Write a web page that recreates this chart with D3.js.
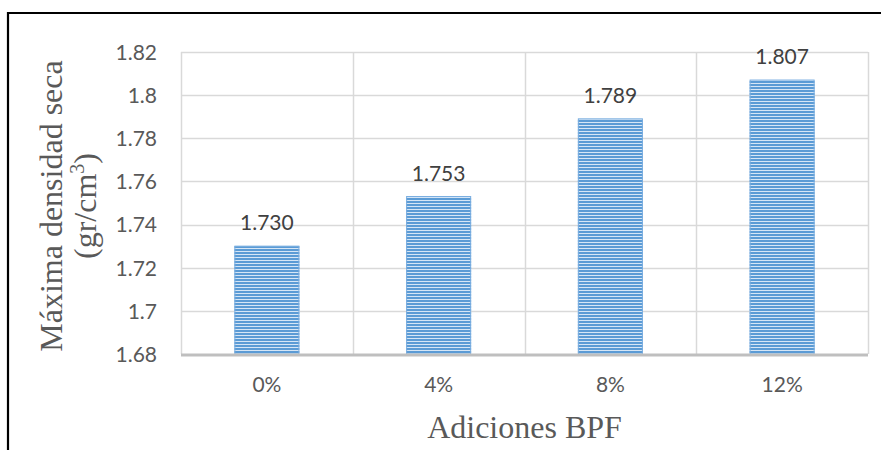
<!DOCTYPE html>
<html><head><meta charset="utf-8">
<script src="https://cdn.jsdelivr.net/npm/d3@7"></script>
<style>body{margin:0;background:#fff}svg{display:block}</style>
</head><body>
<script>
const categories = ["0%", "4%", "8%", "12%"];
const values = [1.730, 1.753, 1.789, 1.807];
const valueLabels = ["1.730", "1.753", "1.789", "1.807"];
const yTicks = [1.68, 1.70, 1.72, 1.74, 1.76, 1.78, 1.80, 1.82];
const yTitle1 = "Máxima densidad seca";
const xTitle = "Adiciones BPF";

const W = 881, H = 450;
const m = {left: 181, right: 868, top: 52, bottom: 354};
const svg = d3.select("body").append("svg").attr("width", W).attr("height", H);

const defs = svg.append("defs");
const pat = defs.append("pattern").attr("id", "stripes").attr("patternUnits", "userSpaceOnUse")
  .attr("width", 8).attr("height", 3);
pat.append("rect").attr("width", 8).attr("height", 3).attr("fill", "#d6e6f6");
pat.append("rect").attr("width", 8).attr("height", 2).attr("fill", "#5b9bd5");

// frame
svg.append("path").attr("d", `M8,${H} L8,13 L${W},13`).attr("fill", "none")
  .attr("stroke", "#000").attr("stroke-width", 2.2);

const x = d3.scaleBand().domain(categories).range([m.left, m.right]).paddingInner(0).paddingOuter(0);
const y = d3.scaleLinear().domain([1.68, 1.82]).range([m.bottom, m.top]);

// gridlines horizontal
svg.append("g").selectAll("line").data(yTicks.slice(1)).join("line")
  .attr("x1", m.left).attr("x2", m.right)
  .attr("y1", d => Math.round(y(d)) + 0.5).attr("y2", d => Math.round(y(d)) + 0.5)
  .attr("stroke", "#d9d9d9").attr("stroke-width", 1.5);
// vertical gridlines at category boundaries
const bounds = categories.map(c => x(c)).concat([m.right]);
svg.append("g").selectAll("line").data(bounds).join("line")
  .attr("x1", d => Math.round(d) + 0.5).attr("x2", d => Math.round(d) + 0.5)
  .attr("y1", m.top).attr("y2", m.bottom)
  .attr("stroke", "#d9d9d9").attr("stroke-width", 1.5);

// bars
const bw = 65;
const bars = svg.append("g").selectAll("g").data(values).join("g");
bars.append("rect")
  .attr("x", (d, i) => x(categories[i]) + x.bandwidth() / 2 - bw / 2)
  .attr("y", d => y(d)).attr("width", bw).attr("height", d => y(1.68) - y(d))
  .attr("fill", "url(#stripes)");
bars.append("rect")
  .attr("x", (d, i) => x(categories[i]) + x.bandwidth() / 2 - bw / 2 + 0.5)
  .attr("y", d => y(d)).attr("width", bw - 1).attr("height", d => y(1.68) - y(d))
  .attr("fill", "none").attr("stroke", "#7aaee0").attr("stroke-width", 1);

// data labels
svg.append("g").selectAll("text").data(values).join("text")
  .attr("x", (d, i) => x(categories[i]) + x.bandwidth() / 2)
  .attr("y", d => y(d) - 16)
  .attr("text-anchor", "middle")
  .attr("font-family", "Lato, 'Open Sans', sans-serif").attr("font-size", 21)
  .attr("fill", "#404040")
  .text((d, i) => valueLabels[i]);

// baseline axis
svg.append("line").attr("x1", m.left).attr("x2", m.right)
  .attr("y1", m.bottom + 1).attr("y2", m.bottom + 1)
  .attr("stroke", "#bfbfbf").attr("stroke-width", 3);

// y tick labels
const yAxis = d3.axisLeft(y).tickValues(yTicks).tickSize(0).tickPadding(0)
  .tickFormat(d => d3.format("")(+d.toFixed(2)));
const ga = svg.append("g").attr("transform", `translate(157,0)`).call(yAxis);
ga.select(".domain").remove();
ga.selectAll("text").attr("font-family", "Lato, 'Open Sans', sans-serif").attr("font-size", 21)
  .attr("fill", "#595959").attr("dy", "0.35em");

// x tick labels
const xAxis = d3.axisBottom(x).tickSize(0).tickPadding(0);
const gx = svg.append("g").attr("transform", `translate(0,385)`).call(xAxis);
gx.select(".domain").remove();
gx.selectAll("text").attr("font-family", "Lato, 'Open Sans', sans-serif").attr("font-size", 21)
  .attr("fill", "#595959").attr("dy", "0.35em");

// titles
svg.append("text").attr("x", (m.left + m.right) / 2).attr("y", 438)
  .attr("text-anchor", "middle").attr("font-family", "'Liberation Serif', serif")
  .attr("font-size", 32).attr("fill", "#595959").text(xTitle);

const yt = svg.append("text").attr("transform", "translate(62,206) rotate(-90)")
  .attr("text-anchor", "middle").attr("font-family", "'Liberation Serif', serif")
  .attr("font-size", 32).attr("fill", "#595959");
yt.append("tspan").attr("x", 0).attr("y", 0).text(yTitle1);
const t2 = yt.append("tspan").attr("x", 0).attr("y", 34);
t2.append("tspan").text("(gr/cm");
t2.append("tspan").attr("font-size", 20).attr("dy", -12).text("3");
t2.append("tspan").attr("dy", 12).text(")");
</script>
</body></html>
